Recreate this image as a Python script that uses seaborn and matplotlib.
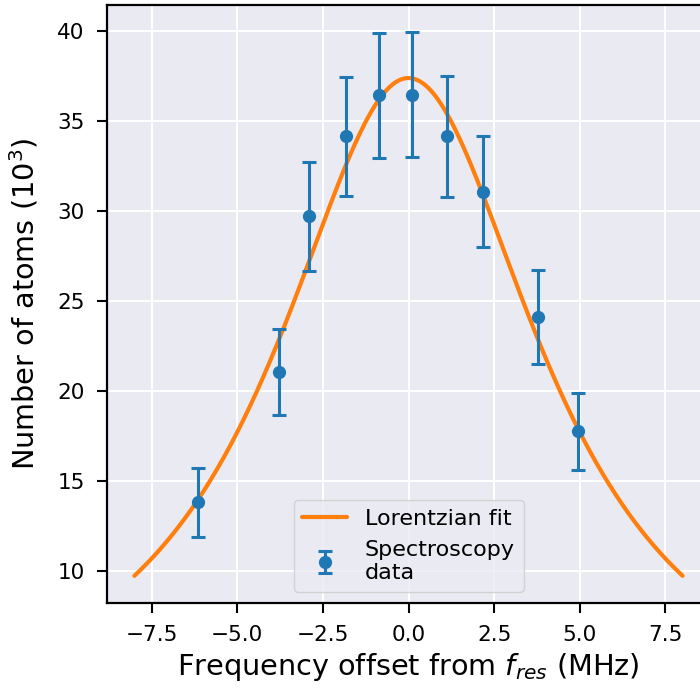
import numpy as np
import pandas as pd
import matplotlib
matplotlib.use("Agg")
import matplotlib.pyplot as plt
import seaborn as sns

freq_offset = [-6.14, -3.77, -2.89, -1.81, -0.85, 0.09, 1.11, 2.16, 3.77, 4.94]
atoms = [13.82, 21.04, 29.70, 34.15, 36.43, 36.48, 34.15, 31.09, 24.09, 17.75]
atoms_err = [1.92, 2.40, 3.03, 3.33, 3.45, 3.47, 3.36, 3.08, 2.61, 2.16]

# Lorentzian fit parameters
fit_amplitude = 37.4
fit_center = 0.0
fit_halfwidth = 4.74
fit_range = [-8.0, 8.0]

sns.set_theme(style="darkgrid")
plt.rcParams.update({
    "axes.edgecolor": "black",
    "axes.linewidth": 1.6,
    "axes.labelcolor": "black",
    "text.color": "black",
    "xtick.bottom": True,
    "ytick.left": True,
    "xtick.major.size": 7,
    "ytick.major.size": 7,
    "xtick.major.width": 1.5,
    "ytick.major.width": 1.5,
    "xtick.major.pad": 9,
    "ytick.major.pad": 9,
    "xtick.color": "black",
    "ytick.color": "black",
    "grid.linewidth": 1.5,
    "mathtext.fontset": "dejavusans",
})
plt.rcParams["font.family"] = ["DejaVu Sans"]

fig = plt.figure(figsize=(7.0, 6.9), dpi=100)
ax = fig.add_axes([107 / 700, 87 / 690, 603 / 700, 598 / 690])

xs = np.linspace(fit_range[0], fit_range[1], 600)
fit_df = pd.DataFrame({
    "x": xs,
    "y": fit_amplitude / (1 + ((xs - fit_center) / fit_halfwidth) ** 2),
})
sns.lineplot(data=fit_df, x="x", y="y", ax=ax, color="#ff7f0e", linewidth=3.0,
             label="Lorentzian fit")

ax.errorbar(freq_offset, atoms, yerr=atoms_err, fmt="o", color="#1f77b4",
            markersize=8.5, elinewidth=2.2, capsize=5, capthick=2.2,
            label="Spectroscopy\ndata")

ax.set_xlabel(r"Frequency offset from $f_{res}$ (MHz)", fontsize=20.7, labelpad=4)
ax.set_ylabel(r"Number of atoms ($10^3$)", fontsize=20.7, labelpad=12)
ax.tick_params(axis="both", labelsize=15.5)
ax.set_xticks([-7.5, -5.0, -2.5, 0.0, 2.5, 5.0, 7.5])
ax.set_yticks([10, 15, 20, 25, 30, 35, 40])
ax.margins(x=0.05, y=0.05)

leg = ax.legend(loc="lower center", fontsize=16, frameon=True, framealpha=0.8,
                handlelength=2.0)
leg.get_frame().set_edgecolor("#cccccc")
for t in leg.get_texts():
    t.set_color("black")

fig.savefig("out.png", dpi=100)
